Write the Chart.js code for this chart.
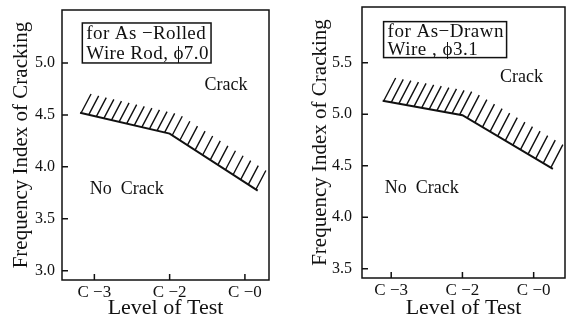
<!DOCTYPE html>
<html>
<head>
<meta charset="utf-8">
<script src="https://cdn.jsdelivr.net/npm/chart.js@4.4.1/dist/chart.umd.min.js"></script>
<style>
  body { margin: 0; background: #fff; }
  canvas { position: absolute; top: 0; }
  #left { left: 0; }
  #right { left: 290px; }
</style>
</head>
<body>
<canvas id="left" width="290" height="322"></canvas>
<canvas id="right" width="288" height="322"></canvas>
<script>
// test levels on the x axis
const levels = ['C −3', 'C −2', 'C −0'];
const levelPos = [0, 1, 2];

// crack / no crack boundary, as-rolled wire rod
const rolledX = [-0.19, 1, 2.17];
const rolledY = [4.52, 4.32, 3.77];
const rolledTicks = [3.0, 3.5, 4.0, 4.5, 5.0];

// crack / no crack boundary, as-drawn wire
const drawnX = [-0.12, 1, 2.27];
const drawnY = [5.13, 4.99, 4.47];
const drawnTicks = [3.5, 4.0, 4.5, 5.0, 5.5];

const INK = '#111';
const SERIF = "'Liberation Serif', 'Times New Roman', serif";

// frame, inward ticks, hatching and the text notes
const decor = {
  id: 'decor',
  afterDraw(chart, args, opts) {
    const { ctx, chartArea: a, scales: { x, y } } = chart;
    ctx.save();
    ctx.strokeStyle = INK;
    ctx.lineWidth = 1.5;
    ctx.strokeRect(a.left, a.top, a.right - a.left, a.bottom - a.top);

    ctx.beginPath();
    x.ticks.forEach(t => {
      const px = x.getPixelForValue(t.value);
      ctx.moveTo(px, a.bottom);
      ctx.lineTo(px, a.bottom - 6);
    });
    y.ticks.forEach(t => {
      const py = y.getPixelForValue(t.value);
      ctx.moveTo(a.left, py);
      ctx.lineTo(a.left + 6, py);
    });
    ctx.stroke();

    // hatching on the crack side of the boundary
    const pts = chart.getDatasetMeta(0).data.map(p => ({ x: p.x, y: p.y }));
    ctx.lineWidth = 1.4;
    ctx.beginPath();
    for (let px = pts[0].x + 1; px <= pts[pts.length - 1].x + 2; px += opts.step) {
      let i = 0;
      while (i < pts.length - 2 && px > pts[i + 1].x) i++;
      const f = (px - pts[i].x) / (pts[i + 1].x - pts[i].x);
      const py = pts[i].y + f * (pts[i + 1].y - pts[i].y);
      ctx.moveTo(px, py);
      ctx.lineTo(px + opts.dx, py - opts.dy);
    }
    ctx.stroke();

    // notes
    ctx.fillStyle = INK;
    ctx.font = '18px ' + SERIF;
    ctx.textBaseline = 'middle';
    ctx.textAlign = 'center';
    opts.notes.forEach(n => {
      ctx.fillText(n.text, x.getPixelForValue(n.x), y.getPixelForValue(n.y));
    });

    const b = opts.box;
    const bx0 = x.getPixelForValue(b.x0), bx1 = x.getPixelForValue(b.x1);
    const by0 = y.getPixelForValue(b.y0), by1 = y.getPixelForValue(b.y1);
    ctx.lineWidth = 1.5;
    ctx.strokeRect(bx0, by0, bx1 - bx0, by1 - by0);
    ctx.font = '19px ' + SERIF;
    ctx.letterSpacing = b.spacing;
    ctx.textAlign = 'left';
    const lh = (by1 - by0) / b.lines.length;
    b.lines.forEach((s, k) => ctx.fillText(s, bx0 + 4, by0 + 1 + lh * (k + 0.5)));
    ctx.letterSpacing = '0px';
    ctx.restore();
  }
};

function makePanel(id, bx, by, yTicks, yMin, yMax, xMin, xMax, layout, decorOpts) {
  return new Chart(document.getElementById(id), {
    type: 'scatter',
    data: {
      datasets: [{
        data: bx.map((v, i) => ({ x: v, y: by[i] })),
        showLine: true,
        borderColor: INK,
        borderWidth: 2,
        pointRadius: 0,
        tension: 0
      }]
    },
    options: {
      responsive: false,
      animation: false,
      layout: { padding: layout.padding },
      plugins: { legend: { display: false }, tooltip: { enabled: false }, decor: decorOpts },
      scales: {
        x: {
          type: 'linear', min: xMin, max: xMax,
          grid: { display: false, drawTicks: false }, border: { display: false },
          afterBuildTicks: s => { s.ticks = levelPos.map(v => ({ value: v })); },
          afterFit: s => { s.height = layout.xHeight; s.paddingLeft = 0; s.paddingRight = 0; },
          ticks: {
            color: INK, padding: 2, maxRotation: 0,
            font: { family: SERIF, size: 17 },
            callback: v => levels[v]
          },
          title: {
            display: true, text: 'Level of Test', color: INK,
            font: { family: SERIF, size: 22 }, padding: { top: 0, bottom: 1 }
          }
        },
        y: {
          type: 'linear', min: yMin, max: yMax,
          grid: { display: false, drawTicks: false }, border: { display: false },
          afterBuildTicks: s => { s.ticks = yTicks.map(v => ({ value: v })); },
          afterFit: s => { s.width = layout.yWidth; s.paddingTop = 0; s.paddingBottom = 0; },
          ticks: {
            color: INK, padding: layout.tickPad,
            font: { family: SERIF, size: 16 },
            callback: v => v.toFixed(1)
          },
          title: {
            display: true, text: 'Frequency Index of Cracking', color: INK,
            font: { family: SERIF, size: 21 }, padding: { top: layout.titleOff, bottom: 0 }
          }
        }
      }
    },
    plugins: [decor]
  });
}

makePanel('left', rolledX, rolledY, rolledTicks, 2.91, 5.51, -0.43, 2.32,
  { padding: { top: 10, right: 21, bottom: 0, left: 0 }, xHeight: 42, yWidth: 62, titleOff: 9, tickPad: 7 },
  {
    step: 7.6, dx: 10, dy: 19,
    notes: [{ text: 'Crack', x: 1.75, y: 4.79 }, { text: 'No  Crack', x: 0.43, y: 3.78 }],
    box: { x0: -0.16, x1: 1.55, y0: 5.385, y1: 5.0, spacing: '0.4px', lines: ['for As −Rolled', 'Wire Rod, ϕ7.0'] }
  });

makePanel('right', drawnX, drawnY, drawnTicks, 3.41, 6.04, -0.41, 2.44,
  { padding: { top: 7, right: 13, bottom: 0, left: 0 }, xHeight: 44, yWidth: 72, titleOff: 18, tickPad: 10 },
  {
    step: 7.6, dx: 12, dy: 23,
    notes: [{ text: 'Crack', x: 1.83, y: 5.36 }, { text: 'No  Crack', x: 0.43, y: 4.28 }],
    box: { x0: -0.107, x1: 1.62, y0: 5.898, y1: 5.549, spacing: '0.5px', lines: ['for As−Drawn', 'Wire , ϕ3.1'] }
  });
</script>
</body>
</html>
